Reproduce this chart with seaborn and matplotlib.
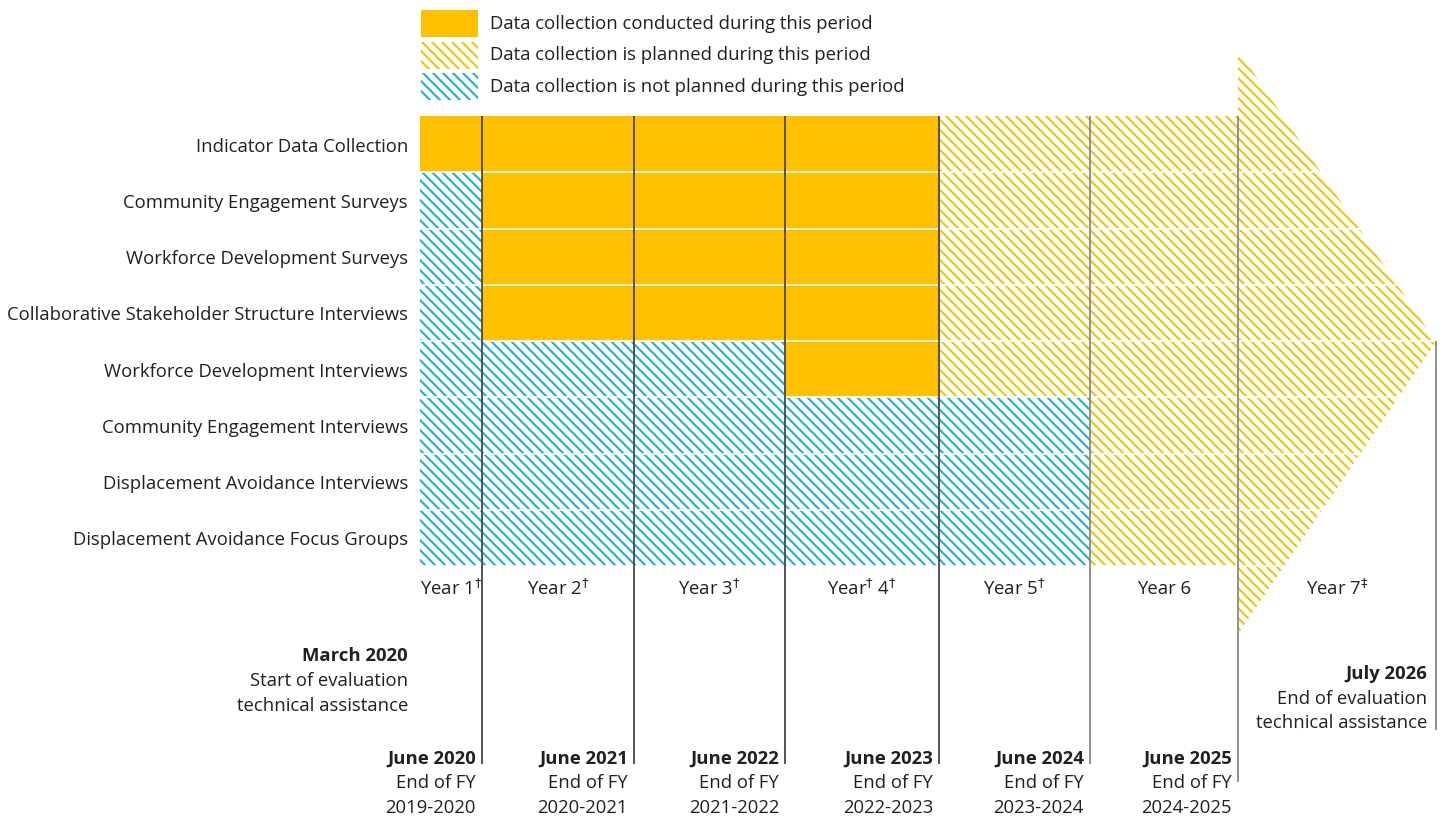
import matplotlib
matplotlib.use("Agg")
import matplotlib.pyplot as plt
from matplotlib.patches import Rectangle
import seaborn as sns

# ---------------- data ----------------
activities = [
    "Indicator Data Collection",
    "Community Engagement Surveys",
    "Workforce Development Surveys",
    "Collaborative Stakeholder Structure Interviews",
    "Workforce Development Interviews",
    "Community Engagement Interviews",
    "Displacement Avoidance Interviews",
    "Displacement Avoidance Focus Groups",
]
# C = conducted, P = planned, N = not planned (one list per year, rows in order above)
year1 = ["C", "N", "N", "N", "N", "N", "N", "N"]
year2 = ["C", "C", "C", "C", "N", "N", "N", "N"]
year3 = ["C", "C", "C", "C", "N", "N", "N", "N"]
year4 = ["C", "C", "C", "C", "C", "N", "N", "N"]
year5 = ["P", "P", "P", "P", "P", "N", "N", "N"]
year6 = ["P", "P", "P", "P", "P", "P", "P", "P"]
year7 = "P"  # arrow: planned for all

year_labels = ["Year 1$^\\dag$", "Year 2$^\\dag$", "Year 3$^\\dag$", "Year$^\\dag$ 4$^\\dag$",
               "Year 5$^\\dag$", "Year 6", "Year 7$^\\ddag$"]
fy_dates = ["June 2020", "June 2021", "June 2022", "June 2023", "June 2024", "June 2025"]
fy_years = ["2019-2020", "2020-2021", "2021-2022", "2022-2023", "2023-2024", "2024-2025"]
start_lines = ["March 2020", "Start of evaluation", "technical assistance"]
end_lines = ["July 2026", "End of evaluation", "technical assistance"]
legend_labels = {
    "C": "Data collection conducted during this period",
    "P": "Data collection is planned during this period",
    "N": "Data collection is not planned during this period",
}

# ---------------- style / layout ----------------
W, H, DPI = 1442, 820, 120
YEL = "#FFC000"
BLUE = "#1BAEE8"
TXT = "#231F20"
FS = 11.1

sns.set_theme(style="white")
plt.rcParams["font.family"] = ["Open Sans", "DejaVu Sans"]
plt.rcParams["hatch.linewidth"] = 1.25
plt.rcParams["mathtext.fontset"] = "dejavusans"

X_EDGES = [420, 482, 634, 785, 939, 1090, 1238]
ARROW_TIP = 1436
ROW_TOP = 116
ROW_H = 56.25
HATCH = "\\\\\\\\"

styles = {
    "C": dict(facecolor=YEL, edgecolor=YEL, linewidth=0),
    "P": dict(facecolor="white", edgecolor=YEL, hatch=HATCH, linewidth=0),
    "N": dict(facecolor="white", edgecolor=BLUE, hatch=HATCH, linewidth=0),
}

fig = plt.figure(figsize=(W / DPI, H / DPI), dpi=DPI)
ax = fig.add_axes([0, 0, 1, 1])
ax.set_xlim(0, W)
ax.set_ylim(H, 0)
ax.axis("off")

# cells
columns = [year1, year2, year3, year4, year5, year6]
for j, col in enumerate(columns):
    left = X_EDGES[j]
    width = X_EDGES[j + 1] - X_EDGES[j]
    for i, s in enumerate(col):
        ax.barh(ROW_TOP + (i + 0.5) * ROW_H, width, left=left, height=ROW_H, **styles[s])

# year 7 arrow
n = len(activities)
grid_mid = ROW_TOP + n * ROW_H / 2
ax.fill([X_EDGES[-1], ARROW_TIP, X_EDGES[-1]], [50, grid_mid + 1, 634], **styles[year7])

# white row separators
ax.hlines([ROW_TOP + k * ROW_H for k in range(1, n + 1)], X_EDGES[0], ARROW_TIP,
          color="white", linewidth=1.0, zorder=3)

# vertical lines
vcolors = ["#4a4a4a", "#4a4a4a", "#4a4a4a", "#4a4a4a", "#8a8a8a", "#8a8a8a"]
vends = [764, 764, 764, 764, 764, 782]
for x, c, e in zip(X_EDGES[1:], vcolors, vends):
    ax.vlines(x, ROW_TOP, e, color=c, linewidth=1.1, zorder=4)
ax.vlines(ARROW_TIP, grid_mid, 730, color="#8a8a8a", linewidth=1.1, zorder=4)

# row labels
for i, a in enumerate(activities):
    ax.text(408, ROW_TOP + (i + 0.5) * ROW_H + 2.5, a, ha="right", va="center",
            fontsize=FS, color=TXT)

# year labels
centers = [(X_EDGES[k] + X_EDGES[k + 1]) / 2 for k in range(len(X_EDGES) - 1)]
centers.append((X_EDGES[-1] + ARROW_TIP) / 2)
for cx, lab in zip(centers, year_labels):
    ax.text(cx, 589, lab, ha="center", va="center", fontsize=FS, color=TXT)

# FY milestones
for x, d, fy in zip(X_EDGES[1:], fy_dates, fy_years):
    ax.text(x - 6, 759, d, ha="right", va="center", fontsize=FS, color=TXT, fontweight="bold")
    ax.text(x - 6, 783.5, "End of FY", ha="right", va="center", fontsize=FS, color=TXT)
    ax.text(x - 6, 808, fy, ha="right", va="center", fontsize=FS, color=TXT)

# start / end of evaluation
for k, t in enumerate(start_lines):
    ax.text(408, 656 + 25 * k, t, ha="right", va="center", fontsize=FS, color=TXT,
            fontweight="bold" if k == 0 else "normal")
for k, t in enumerate(end_lines):
    ax.text(1427, 674 + 24.5 * k, t, ha="right", va="center", fontsize=FS, color=TXT,
            fontweight="bold" if k == 0 else "normal")

# legend
for k, key in enumerate(["C", "P", "N"]):
    y0 = 10 + 31.5 * k
    ax.add_patch(Rectangle((421, y0), 57, 27, **styles[key]))
    ax.text(490, y0 + 14, legend_labels[key], ha="left", va="center", fontsize=FS, color=TXT)

fig.savefig("out.png", dpi=DPI, facecolor="white")
